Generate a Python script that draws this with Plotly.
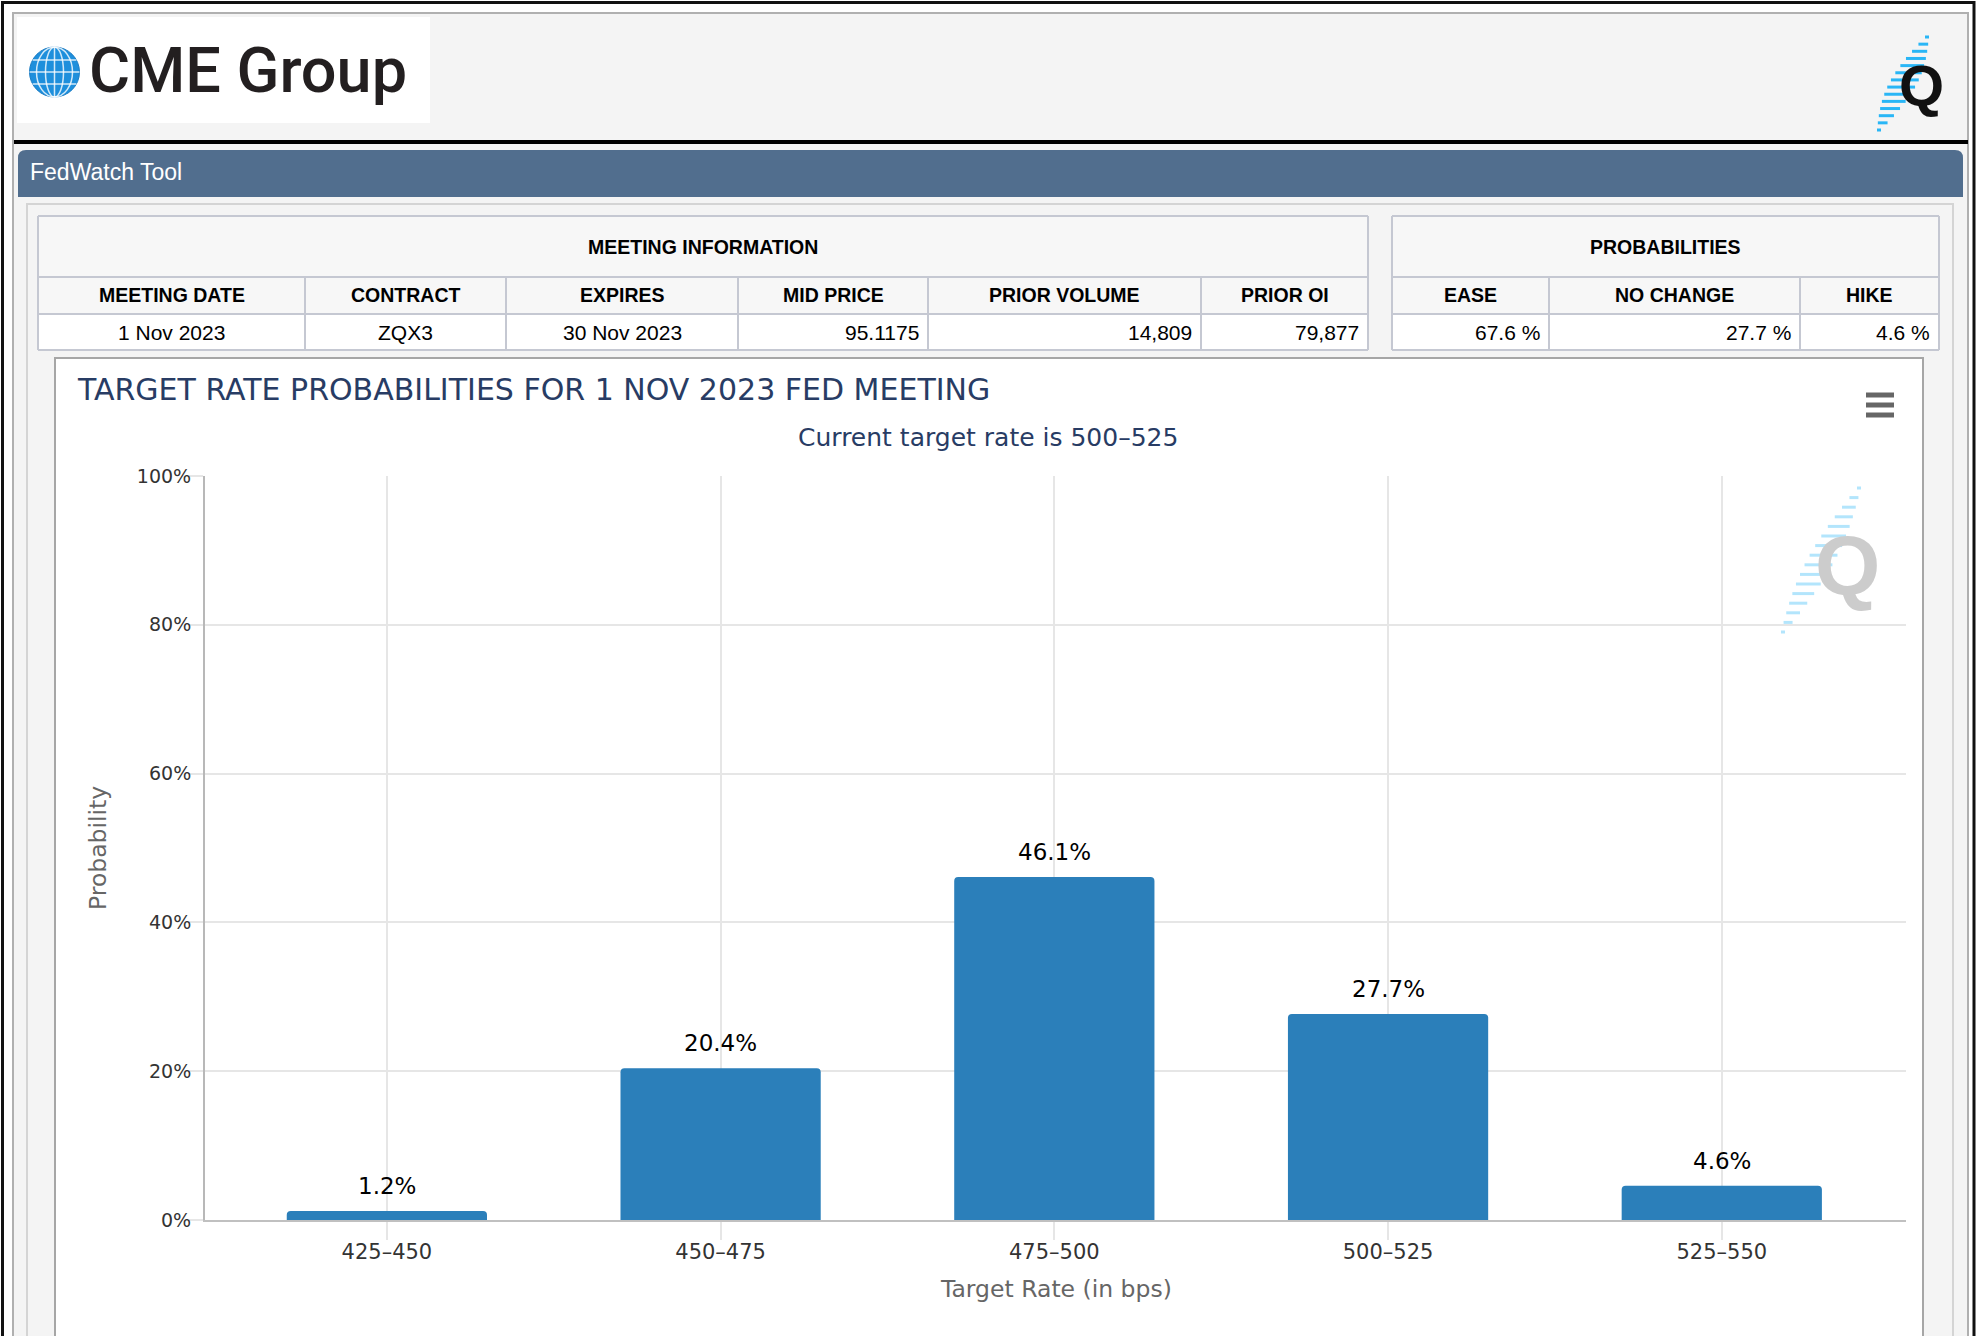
import math
import plotly.graph_objects as go

# --- data -----------------------------------------------------------------
rate_bins = ["425–450", "450–475", "475–500", "500–525", "525–550"]
probabilities = [1.2, 20.4, 46.1, 27.7, 4.6]

meeting_cols = ["MEETING DATE", "CONTRACT", "EXPIRES", "MID PRICE", "PRIOR VOLUME", "PRIOR OI"]
meeting_vals = ["1 Nov 2023", "ZQX3", "30 Nov 2023", "95.1175", "14,809", "79,877"]
prob_cols = ["EASE", "NO CHANGE", "HIKE"]
prob_vals = ["67.6 %", "27.7 %", "4.6 %"]
y_ticks = [0, 20, 40, 60, 80, 100]

chart_title = "TARGET RATE PROBABILITIES FOR 1 NOV 2023 FED MEETING"
chart_subtitle = "Current target rate is 500–525"

# --- page geometry (pixels) -------------------------------------------------
W, H = 1980, 1336
BAR_BLUE = "#2b7fba"
NAVY = "#283c64"
CHART_FONT = "DejaVu Sans"
TABLE_FONT = "Liberation Sans"


def X(px):
    return px / W


def Y(py):
    return 1 - py / H


shapes = []
annotations = []


def rect(x0, y0, x1, y1, fill=None, line=None, lw=0):
    shapes.append(dict(
        type="rect", xref="paper", yref="paper", layer="below",
        x0=X(x0), x1=X(x1), y0=Y(y1), y1=Y(y0),
        fillcolor=fill or "rgba(0,0,0,0)",
        line=dict(color=line or "rgba(0,0,0,0)", width=lw),
    ))


def hline(x0, x1, y, color, lw, layer="below"):
    shapes.append(dict(type="line", xref="paper", yref="paper", layer=layer,
                       x0=X(x0), x1=X(x1), y0=Y(y), y1=Y(y),
                       line=dict(color=color, width=lw)))


def vline(x, y0, y1, color, lw, layer="below"):
    shapes.append(dict(type="line", xref="paper", yref="paper", layer=layer,
                       x0=X(x), x1=X(x), y0=Y(y0), y1=Y(y1),
                       line=dict(color=color, width=lw)))


def text(x, y, s, size, color, font=CHART_FONT, xanchor="center", weight=None, angle=0):
    f = dict(family=font, size=size, color=color)
    if weight:
        f["weight"] = weight
    annotations.append(dict(xref="paper", yref="paper", x=X(x), y=Y(y), text=s,
                            showarrow=False, xanchor=xanchor, yanchor="middle",
                            font=f, textangle=angle))


def q_logo(cx, cy, size, color, dash_color, top, bottom, x_top, x_bot, n=14):
    # streaks behind the "Q" mark
    for i in range(n):
        t = i / (n - 1)
        yy = top + t * (bottom - top)
        xc = x_top + t * (x_bot - x_top)
        half = 2 + 12 * math.sin(math.pi * t)
        hline(xc - half, xc + half, yy, dash_color, 3, layer="above")
    text(cx, cy, "Q", size, color, font=TABLE_FONT, weight="bold")


# --- page frame (kept inside the figure) ------------------------------------
BOTTOM = 1336
rect(2.5, 2.5, 1974, BOTTOM + 4, line="#111111", lw=3)
rect(13, 13, 1968, BOTTOM + 4, fill="#f4f4f4", line="#b0b0b0", lw=2)
rect(17, 17, 430, 123, fill="#ffffff")
hline(14, 1968, 142, "#000000", 4)

# globe in the logo
shapes.append(dict(type="circle", xref="paper", yref="paper", layer="below",
                   x0=X(29.5), x1=X(79.5), y0=Y(97), y1=Y(47),
                   fillcolor="#1e8fdc", line=dict(color="#1a7cc4", width=1)))
for rx in (9, 18):
    shapes.append(dict(type="circle", xref="paper", yref="paper", layer="below",
                       x0=X(54.5 - rx), x1=X(54.5 + rx), y0=Y(97), y1=Y(47),
                       line=dict(color="rgba(255,255,255,0.8)", width=1.5)))
vline(54.5, 47, 97, "rgba(255,255,255,0.8)", 1.5)
for dy in (-12, 0, 12):
    half = math.sqrt(25 ** 2 - dy ** 2)
    hline(54.5 - half, 54.5 + half, 72 + dy, "rgba(255,255,255,0.8)", 1.5)
text(248, 71, "CME Group", 63, "#231f20", font="Roboto", weight=500)

q_logo(1921, 86, 58, "#111111", "#29b6f6", 37, 130, 1927, 1879)

# FedWatch bar with rounded top corners
bx0, bx1, by0, by1, r = 18, 1963, 150, 197, 8
path = (f"M {X(bx0)},{Y(by1)} L {X(bx0)},{Y(by0 + r)} "
        f"Q {X(bx0)},{Y(by0)} {X(bx0 + r)},{Y(by0)} "
        f"L {X(bx1 - r)},{Y(by0)} Q {X(bx1)},{Y(by0)} {X(bx1)},{Y(by0 + r)} "
        f"L {X(bx1)},{Y(by1)} Z")
shapes.append(dict(type="path", xref="paper", yref="paper", layer="below", path=path,
                   fillcolor="#516e8e", line=dict(width=0)))
text(28, 172, "FedWatch Tool", 23, "#ffffff", font=TABLE_FONT, xanchor="left")

rect(27, 204, 1953, BOTTOM + 4, fill="#f4f4f4", line="#d4d4d4", lw=2)


# --- info tables ------------------------------------------------------------
def info_table(edges, title, cols, vals, align):
    rows = [216, 277, 314, 350]
    border = "#c5c8d2"
    rect(edges[0], rows[0], edges[-1], rows[2], fill="#f7f7f7")
    rect(edges[0], rows[2], edges[-1], rows[3], fill="#ffffff")
    for yy in rows:
        hline(edges[0], edges[-1], yy, border, 2)
    vline(edges[0], rows[0], rows[3], border, 2)
    vline(edges[-1], rows[0], rows[3], border, 2)
    for e in edges[1:-1]:
        vline(e, rows[1], rows[3], border, 2)
    text((edges[0] + edges[-1]) / 2, 247, title, 19.5, "#000000", font=TABLE_FONT, weight="bold")
    for i, (c, v) in enumerate(zip(cols, vals)):
        l, rr = edges[i], edges[i + 1]
        text((l + rr) / 2, 295, c, 19.5, "#000000", font=TABLE_FONT, weight="bold")
        if align[i] == "center":
            text((l + rr) / 2, 332, v, 21, "#000000", font=TABLE_FONT)
        else:
            text(rr - 7, 332, v, 21, "#000000", font=TABLE_FONT, xanchor="right")


info_table([38, 305, 506, 738, 928, 1201, 1368], "MEETING INFORMATION",
           meeting_cols, meeting_vals,
           ["center", "center", "center", "right", "right", "right"])
info_table([1392, 1549, 1800, 1939], "PROBABILITIES",
           prob_cols, prob_vals, ["right", "right", "right"])

# --- chart box --------------------------------------------------------------
rect(55, 358, 1923, BOTTOM + 4, fill="#ffffff", line="#a6a6a6", lw=2)
for yy in (395, 405, 415):
    hline(1866, 1894, yy, "#666666", 5, layer="above")
text(75, 389, chart_title, 30, NAVY, xanchor="left")
text(988, 437, chart_subtitle, 25, NAVY)
text(98, 848, "Probability", 23.5, "#666666", angle=-90)
text(1056, 1289, "Target Rate (in bps)", 23.5, "#666666")

q_logo(1847, 566, 84, "#cccccc", "#b3e5fc", 488, 632, 1859, 1783, n=16)

# value labels above the bars
for cat, v in zip(rate_bins, probabilities):
    annotations.append(dict(xref="x", yref="y", x=cat, y=v, text=f"{v:.1f}%",
                            showarrow=False, yanchor="middle", yshift=25,
                            font=dict(family=CHART_FONT, size=23, color="#000000")))

fig = go.Figure(go.Bar(
    x=rate_bins, y=probabilities, width=0.6,
    marker=dict(color=BAR_BLUE, line=dict(width=0), cornerradius=4),
    hovertemplate="%{x}: %{y:.1f}%<extra></extra>",
))

fig.update_layout(
    width=W, height=H,
    margin=dict(l=0, r=0, t=0, b=0, pad=0, autoexpand=False),
    paper_bgcolor="#ffffff",
    plot_bgcolor="rgba(0,0,0,0)",
    showlegend=False,
    shapes=shapes,
    annotations=annotations,
    xaxis=dict(
        domain=[X(205), X(1906)], range=[-0.545, 4.552], type="category",
        automargin=False,
        tickfont=dict(family=CHART_FONT, size=21, color="#333333"),
        showgrid=True, gridcolor="#e6e6e6", gridwidth=2,
        ticks="outside", ticklen=18, tickcolor="#e6e6e6", tickwidth=2,
        ticklabelstandoff=-6,
        showline=True, linecolor="#c0c0c0", linewidth=2, zeroline=False,
    ),
    yaxis=dict(
        domain=[Y(1220), Y(476)], range=[0, 100], automargin=False,
        tickmode="array", tickvals=y_ticks, ticktext=[f"{v}%" for v in y_ticks],
        tickfont=dict(family=CHART_FONT, size=19, color="#333333"),
        showgrid=True, gridcolor="#e6e6e6", gridwidth=2,
        ticks="outside", ticklen=14, tickcolor="#e6e6e6", tickwidth=2,
        ticklabelstandoff=-6,
        showline=True, linecolor="#b8b8b8", linewidth=2, zeroline=False,
    ),
)

# pin the figure to the page corner so the page is exactly the figure size
pin_js = """
document.body.style.margin = '0';
document.body.style.overflow = 'hidden';
var gd = document.getElementById('{plot_id}');
gd.style.position = 'absolute';
gd.style.left = '0px';
gd.style.top = '0px';
"""
fig.write_html("out.html", config={"displayModeBar": False}, post_script=pin_js)
